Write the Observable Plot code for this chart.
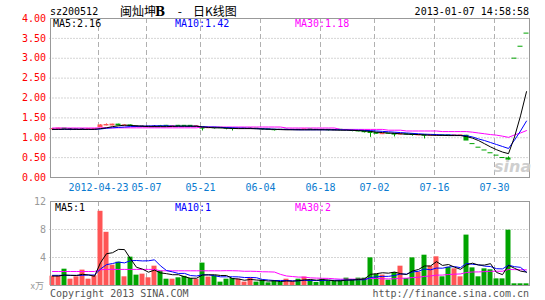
<!DOCTYPE html>
<html><head><meta charset="utf-8">
<script src="https://cdn.jsdelivr.net/npm/d3@7"></script>
<script src="https://cdn.jsdelivr.net/npm/@observablehq/plot@0.6"></script>
<style>
html,body{margin:0;padding:0;background:#fff;}
#wrap{position:relative;width:545px;height:300px;overflow:hidden;background:#fff;}
#wrap svg{position:absolute;left:0;}
</style></head><body><div id="wrap"></div>
<script>
const stockCode = "sz200512";
const titleParts = ["闽灿坤", "B", "-", "日K线图"];
const stamp = "2013-01-07 14:58:58";
const tickIdx = [8, 16, 25, 35, 45, 54, 64, 74];
const tickLabels = ["2012-04-23", "05-07", "05-21", "06-04", "06-18", "07-02", "07-16", "07-30"];
const priceTicks = [0, 0.5, 1, 1.5, 2, 2.5, 3, 3.5, 4];
const priceGrid = [0.5, 1, 1.5, 2, 2.5, 3, 3.5];
const volTicks = [4, 8, 12];
const volGrid = [4, 8];
const maNames = ["MA5", "MA10", "MA30"];
const priceMaLast = ["2.16", "1.42", "1.18"];
const volMaLast = ["1", "1", "2"];

const open = [1.21,1.22,1.23,1.21,1.21,1.21,1.21,1.21,1.27,1.31,
  1.31,1.33,1.30,1.31,1.28,1.28,1.28,1.28,1.29,1.30,
  1.28,1.30,1.30,1.30,1.28,1.26,1.24,1.25,1.25,1.24,
  1.23,1.22,1.23,1.23,1.23,1.22,1.21,1.20,1.20,1.20,
  1.20,1.20,1.20,1.21,1.20,1.20,1.20,1.19,1.20,1.19,
  1.19,1.17,1.16,1.14,1.12,1.09,1.10,1.10,1.08,1.09,
  1.09,1.06,1.07,1.05,1.05,1.06,1.06,1.05,1.05,1.05,
  0.84,0.75,0.68,0.61,0.55,0.49,0.48,2.99,3.29,3.62];
const close = [1.22,1.23,1.22,1.21,1.21,1.21,1.22,1.22,1.31,1.32,
  1.33,1.31,1.31,1.29,1.28,1.28,1.28,1.28,1.28,1.29,
  1.29,1.29,1.29,1.28,1.29,1.23,1.25,1.24,1.24,1.23,
  1.22,1.23,1.23,1.23,1.22,1.21,1.20,1.19,1.20,1.20,
  1.20,1.20,1.21,1.20,1.20,1.20,1.19,1.19,1.19,1.19,
  1.17,1.16,1.14,1.12,1.10,1.10,1.10,1.08,1.09,1.08,
  1.07,1.07,1.05,1.06,1.06,1.05,1.05,1.06,1.06,0.93,
  0.84,0.75,0.68,0.61,0.55,0.49,0.45,2.99,3.29,3.62];
const high = [1.23,1.24,1.23,1.22,1.21,1.22,1.22,1.23,1.33,1.35,
  1.34,1.34,1.32,1.32,1.29,1.29,1.28,1.30,1.31,1.31,
  1.30,1.31,1.30,1.30,1.30,1.26,1.26,1.25,1.25,1.24,
  1.23,1.24,1.23,1.24,1.23,1.22,1.21,1.21,1.20,1.21,
  1.20,1.20,1.21,1.21,1.20,1.20,1.20,1.19,1.20,1.19,
  1.19,1.18,1.16,1.16,1.13,1.11,1.10,1.10,1.10,1.09,
  1.10,1.08,1.08,1.07,1.07,1.06,1.06,1.06,1.06,1.06,
  0.84,0.75,0.68,0.61,0.55,0.49,0.52,2.99,3.29,3.62];
const low = [1.18,1.21,1.21,1.18,1.21,1.20,1.20,1.21,1.26,1.30,
  1.30,1.30,1.30,1.28,1.27,1.27,1.28,1.27,1.28,1.28,
  1.28,1.28,1.28,1.28,1.28,1.17,1.23,1.22,1.23,1.20,
  1.17,1.21,1.23,1.22,1.21,1.19,1.19,1.17,1.19,1.20,
  1.19,1.20,1.20,1.19,1.20,1.19,1.17,1.19,1.18,1.19,
  1.15,1.15,1.12,1.01,1.09,1.08,1.09,1.02,1.07,1.07,
  1.04,1.05,0.97,1.04,1.05,1.04,1.04,1.05,1.05,0.93,
  0.84,0.75,0.68,0.61,0.55,0.49,0.44,2.99,3.29,3.62];
const candleDir = ["r","r","g","k","k","k","r","r","r","r",
  "r","g","r","g","k","k","k","k","g","g",
  "r","g","g","g","r","g","r","g","g","g",
  "g","r","k","k","g","g","g","g","k","k",
  "k","k","r","g","k","k","g","k","g","k",
  "g","g","g","g","g","r","g","g","r","g",
  "g","r","g","r","r","g","g","r","r","g",
  "g","g","g","g","g","g","g","g","g","g"];
const volume = [1.33,1.33,2.33,0.9,1.24,2.2,0.9,1.38,10.6,7.6,
  2.9,3.33,1.24,4.05,1.48,1.62,1.1,2.76,2.05,0.9,
  0.9,1.1,1.3,1.0,0.9,3.2,1.2,1.38,0.48,0.9,
  1.0,0.9,0.48,1.05,0.48,0.76,0.38,0.7,0.5,0.9,
  0.5,0.9,1.2,0.76,0.43,0.9,0.62,0.65,0.7,1.05,
  0.85,1.05,1.05,3.95,1.57,1.48,0.76,1.86,2.76,1.0,
  3.95,1.9,4.33,2.76,4.1,1.24,2.6,2.38,1.24,7.2,
  2.52,1.24,2.38,2.24,0.95,0.95,7.9,0.24,0.24,0.24];
const volDir = ["r","r","g","r","r","r","r","r","r","r",
  "r","g","r","g","g","r","r","r","g","g",
  "r","g","g","g","r","g","r","g","g","g",
  "g","r","r","r","g","g","g","g","g","r",
  "r","g","r","g","g","g","g","g","g","g",
  "g","g","g","g","g","r","g","g","r","g",
  "g","r","g","r","r","g","g","r","r","g",
  "g","g","g","g","g","g","g","g","g","g"];
const priceMA5 = [1.21,1.21,1.215,1.215,1.21,1.21,1.21,1.21,1.23,1.25,
  1.28,1.30,1.316,1.31,1.30,1.29,1.28,1.28,1.28,1.28,
  1.285,1.29,1.29,1.29,1.29,1.27,1.26,1.25,1.25,1.24,
  1.235,1.23,1.23,1.23,1.225,1.22,1.215,1.21,1.205,1.20,
  1.20,1.20,1.20,1.20,1.20,1.20,1.20,1.195,1.19,1.19,
  1.185,1.18,1.17,1.16,1.14,1.13,1.12,1.11,1.10,1.09,
  1.085,1.08,1.07,1.065,1.06,1.06,1.055,1.055,1.055,1.03,
  0.99,0.93,0.85,0.77,0.70,0.64,0.60,1.02,1.55,2.16];
const priceMA10 = [1.21,1.21,1.21,1.21,1.21,1.21,1.21,1.21,1.22,1.24,
  1.25,1.26,1.27,1.28,1.285,1.29,1.295,1.30,1.30,1.30,
  1.295,1.29,1.29,1.29,1.29,1.28,1.27,1.27,1.26,1.255,
  1.25,1.245,1.24,1.235,1.23,1.225,1.22,1.215,1.21,1.21,
  1.205,1.20,1.20,1.20,1.20,1.20,1.20,1.20,1.20,1.195,
  1.19,1.19,1.185,1.18,1.17,1.16,1.15,1.14,1.13,1.12,
  1.11,1.10,1.09,1.085,1.08,1.07,1.07,1.065,1.06,1.05,
  1.02,0.97,0.93,0.88,0.83,0.78,0.73,0.94,1.17,1.42];
const priceMA30 = [1.245,1.245,1.245,1.245,1.245,1.245,1.245,1.245,1.25,1.25,
  1.25,1.25,1.25,1.25,1.25,1.25,1.25,1.25,1.25,1.25,
  1.25,1.25,1.25,1.25,1.25,1.27,1.27,1.27,1.27,1.27,
  1.27,1.27,1.27,1.27,1.27,1.27,1.27,1.27,1.27,1.245,
  1.245,1.245,1.245,1.245,1.245,1.245,1.245,1.245,1.21,1.21,
  1.21,1.21,1.21,1.21,1.21,1.21,1.19,1.19,1.19,1.17,
  1.17,1.17,1.17,1.17,1.17,1.155,1.155,1.155,1.155,1.155,
  1.14,1.12,1.10,1.08,1.065,1.04,1.01,1.07,1.12,1.18];
const volMA5 = [1.35,1.35,1.5,1.45,1.43,1.6,1.51,1.32,3.26,4.54,
  4.68,5.16,5.13,3.82,2.6,2.34,1.9,2.2,1.8,1.69,
  1.54,1.54,1.25,1.04,1.04,1.5,1.52,1.54,1.43,1.43,
  0.99,0.93,0.75,0.87,0.78,0.73,0.63,0.67,0.56,0.65,
  0.6,0.7,0.8,0.85,0.76,0.84,0.78,0.67,0.66,0.78,
  0.77,0.86,0.94,1.59,1.69,1.82,1.76,1.92,1.69,1.57,
  2.07,2.29,2.79,2.79,3.41,2.87,3.0,2.62,2.31,2.93,
  3.19,2.92,2.92,3.12,1.87,1.55,2.88,2.46,2.06,1.91];
const volMA10 = [1.45,1.45,1.45,1.45,1.45,1.45,1.5,1.5,2.35,2.98,
  3.14,3.34,3.23,3.54,3.57,3.51,3.53,3.67,2.81,2.14,
  1.94,1.72,1.73,1.42,1.36,1.52,1.53,1.39,1.24,1.24,
  1.25,1.23,1.14,1.15,1.11,0.86,0.78,0.71,0.72,0.72,
  0.67,0.67,0.74,0.71,0.70,0.72,0.74,0.74,0.76,0.77,
  0.81,0.82,0.81,1.13,1.24,1.30,1.31,1.43,1.64,1.63,
  1.94,2.03,2.36,2.24,2.49,2.47,2.65,2.70,2.55,3.17,
  3.03,2.96,2.77,2.71,2.40,2.37,2.90,2.69,2.59,1.89];
const volMA30 = [2.0,2.0,2.0,2.0,2.0,2.0,2.0,2.0,2.25,2.3,
  2.3,2.3,2.3,2.3,2.3,2.3,2.3,2.3,2.1,2.1,
  2.1,2.1,2.1,2.1,2.1,2.1,2.1,2.1,2.1,2.12,
  2.11,2.09,2.03,2.04,2.01,1.96,1.95,1.92,1.59,1.36,
  1.28,1.20,1.20,1.09,1.06,1.03,1.02,0.95,0.90,0.91,
  0.91,0.90,0.90,0.99,1.02,0.96,0.94,0.96,1.04,1.04,
  1.14,1.17,1.30,1.36,1.48,1.49,1.57,1.62,1.65,1.86,
  1.93,1.94,1.98,2.03,2.04,2.04,2.29,2.27,2.26,2.23];

const N = close.length;
const idx = d3.range(N);
const bars = idx.map(i => ({i, o: open[i], h: high[i], l: low[i], c: close[i], dir: candleDir[i], v: volume[i], vd: volDir[i]}));
const candleColor = {r: "#ff5555", g: "#00a400", k: "#000000"};
const maColors = ["#000000", "#0000ff", "#ff00ff"];
const mono = "'DejaVu Sans Mono', monospace";
const cjk = "'Noto Sans CJK SC', sans-serif";
const mid = i => i + 5 / 12;
const gridX = i => i + 1 / 12;

const base = {
  width: 545, marginLeft: 49.5, marginRight: 15.5,
  x: {domain: [0, N], axis: null},
  color: {type: "identity"},
  style: {fontFamily: mono, fontSize: "10px", background: "transparent"}
};
const maLine = (arr, color) => Plot.line(idx, {x: mid, y: i => arr[i], stroke: color, strokeWidth: 1});

const pricePlot = Plot.plot({
  ...base,
  height: 197, marginTop: 18, marginBottom: 20,
  y: {domain: [0, 4], axis: null},
  marks: [
    Plot.ruleY(priceGrid, {stroke: "#aaa", strokeDasharray: "1,2"}),
    Plot.ruleX(tickIdx, {x: gridX, stroke: "#b0b0b0", strokeDasharray: "5,3"}),
    Plot.ruleX(bars, {x: d => mid(d.i), y1: "l", y2: "h", stroke: d => candleColor[d.dir]}),
    Plot.rect(bars, {x1: "i", x2: d => d.i + 1, insetRight: 1,
      y1: d => Math.min(d.o, d.c), y2: d => Math.max(d.o, d.c), insetTop: -0.5, insetBottom: -0.5,
      fill: d => candleColor[d.dir]}),
    maLine(priceMA30, maColors[2]),
    maLine(priceMA10, maColors[1]),
    maLine(priceMA5, maColors[0]),
    Plot.frame({stroke: "#999", insetLeft: 0.5, insetRight: 0.5}),
    Plot.text(priceTicks, {y: d => d, frameAnchor: "left", dx: -4, textAnchor: "end",
      text: d => d3.format(".2f")(d), fill: "#ff0000", fontSize: 10}),
    Plot.text(tickIdx, {x: gridX, frameAnchor: "bottom", dy: 13,
      text: (d, i) => tickLabels[i], fill: "#0a7bd0", fontSize: 10})
  ]
});

const volPlot = Plot.plot({
  ...base,
  height: 103, marginTop: 4, marginBottom: 15,
  y: {domain: [0, 12], axis: null},
  marks: [
    Plot.ruleY(volGrid, {stroke: "#aaa", strokeDasharray: "1,2"}),
    Plot.ruleX(tickIdx, {x: gridX, stroke: "#b0b0b0", strokeDasharray: "5,3"}),
    Plot.rect(bars, {x1: "i", x2: d => d.i + 1, insetRight: 1, y1: d => 0, y2: "v",
      fill: d => candleColor[d.vd]}),
    maLine(volMA30, maColors[2]),
    maLine(volMA10, maColors[1]),
    maLine(volMA5, maColors[0]),
    Plot.frame({stroke: "#999", insetLeft: 0.5, insetRight: 0.5}),
    Plot.text(volTicks, {y: d => d, frameAnchor: "left", dx: -4, textAnchor: "end",
      text: d => String(d), fill: "#999", fontSize: 10})
  ]
});

const wrap = document.getElementById("wrap");
pricePlot.style.top = "0px";
volPlot.style.top = "197px";
wrap.appendChild(pricePlot);
wrap.appendChild(volPlot);

const ov = d3.select(wrap).append("svg").attr("width", 545).attr("height", 300)
  .style("top", "0px").style("pointer-events", "none");
function txt(x, y, s, o = {}) {
  return ov.append("text").attr("x", x).attr("y", y).text(s)
    .attr("font-family", o.font || mono).attr("font-size", o.size || 10)
    .attr("fill", o.fill || "#000").attr("text-anchor", o.anchor || "start")
    .attr("font-weight", o.weight || "normal").attr("font-style", o.style || "normal");
}
txt(50, 15, stockCode);
// title: 闽灿坤B - 日K线图
const t = ov.append("text").attr("y", 15.5).attr("font-family", cjk).attr("font-size", 12).attr("fill", "#000");
t.append("tspan").attr("x", 120).text(titleParts[0]);
t.append("tspan").attr("x", 155).attr("font-weight", "bold").attr("font-family", "'DejaVu Serif', serif").text(titleParts[1]);
t.append("tspan").attr("x", 175).text(" " + titleParts[2] + " ");
t.append("tspan").attr("x", 193).text(titleParts[3]);
txt(529, 15, stamp, {anchor: "end"});
const legX = [53, 175, 295];
maNames.forEach((m, k) => txt(legX[k], 27, m + ":" + priceMaLast[k], {fill: maColors[k]}));
const vLegX = [55, 175, 295];
maNames.forEach((m, k) => txt(vLegX[k], 210.5, m + ":" + volMaLast[k], {fill: maColors[k]}));
txt(44, 289, "x万", {anchor: "end", fill: "#999", font: cjk, size: 9});
txt(50, 296.5, "Copyright 2013 SINA.COM", {fill: "#555"});
txt(529, 296.5, "http://finance.sina.com.cn", {anchor: "end", fill: "#555"});
txt(494, 172, "sina", {font: "'DejaVu Sans', sans-serif", size: 16, weight: "bold", style: "italic", fill: "#cfcfcf"});
</script></body></html>
